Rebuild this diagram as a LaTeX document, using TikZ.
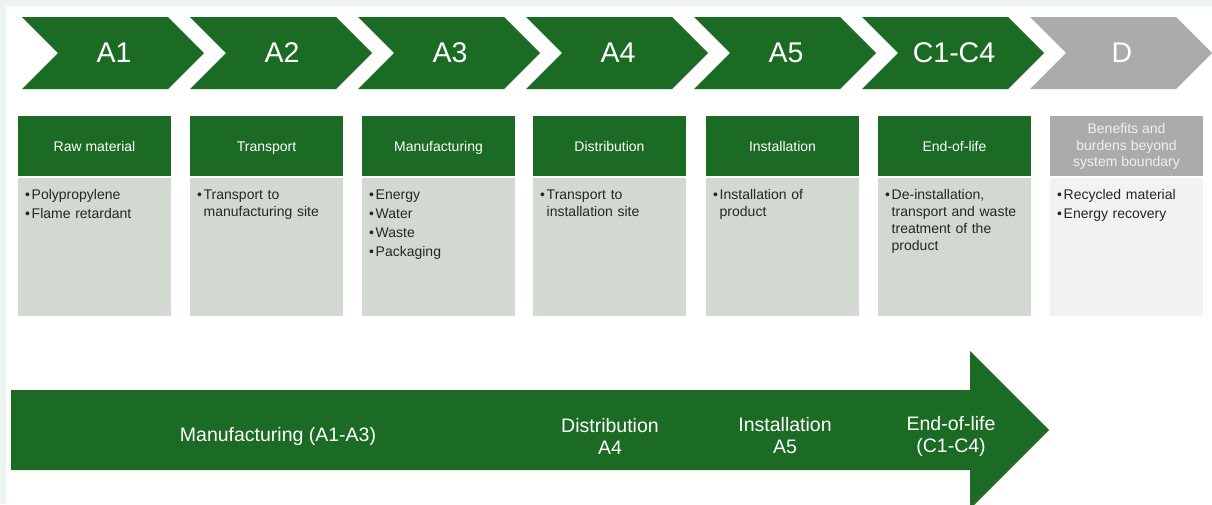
\documentclass[tikz,border=0pt]{standalone}
\usepackage{fontspec}
\setmainfont{Liberation Sans}
\definecolor{grn}{HTML}{1B6B25}
\definecolor{gry}{HTML}{ABABAB}
\definecolor{bodyg}{HTML}{D1D9D1}
\definecolor{bodyl}{HTML}{F2F2F2}
\definecolor{frame}{HTML}{EEF5EE}
\newcommand{\bitem}[1]{\par\noindent\makebox[6.5pt][l]{\textbullet}\parbox[t]{140pt}{\raggedright #1\strut}\par}
\tikzset{
  chevlabel/.style={text=white,font=\fontsize{28.5}{30}\selectfont,inner sep=0pt},
  headtext/.style={text=white,font=\fontsize{14}{16.5}\selectfont,align=center,inner sep=0pt},
  headone/.style={headtext,anchor=base},
  bodytext/.style={text=black!85,font=\fontsize{14}{16.7}\selectfont,text width=150pt,inner sep=0pt,anchor=north west},
  arrowtext/.style={text=white,font=\fontsize{19.5}{22}\selectfont,align=center,inner sep=0pt}
}
\begin{document}
\begin{tikzpicture}[x=1pt,y=-1pt]
\useasboundingbox (0,0) rectangle (1212,504);
\clip (0,0) rectangle (1212,504);
\fill[frame] (0,0) rectangle (1212,504);
\fill[white] (6,6) rectangle (1212,504);
% chevrons
\foreach \i/\lab/\col in {0/A1/grn,1/A2/grn,2/A3/grn,3/A4/grn,4/A5/grn,5/C1-C4/grn,6/D/gry}{
  \pgfmathsetmacro{\xo}{22+168*\i}
  \fill[\col] (\xo,17) -- ++(146,0) -- ++(36,36) -- ++(-36,36) -- ++(-146,0) -- ++(36,-36) -- cycle;
  \node[chevlabel] (chev\i) at (\xo+92,53) {\lab};
}
% boxes
\foreach \i/\xl/\hc/\bc in {0/18/grn/bodyg,1/190/grn/bodyg,2/362/grn/bodyg,3/533/grn/bodyg,4/706/grn/bodyg,5/878/grn/bodyg,6/1050/gry/bodyl}{
  \fill[\hc] (\xl,116) rectangle ++(153,60);
  \fill[\bc] (\xl,177.5) rectangle ++(153,138.5);
}
\node[headone] (h0) at (94.5,151) {Raw material};
\node[headone] (h1) at (266.5,151) {Transport};
\node[headone] (h2) at (438.5,151) {Manufacturing};
\node[headone] (h3) at (609.5,151) {Distribution};
\node[headone] (h4) at (782.5,151) {Installation};
\node[headone] (h5) at (954.5,151) {End-of-life};
\node[headtext,text=white!94!black] (h6) at (1126.5,146.5) {Benefits and\\burdens beyond\\system boundary};
\node[bodytext] (b0) at (25,183) {\bitem{Polypropylene}\vspace{2.3pt}\bitem{Flame retardant}};
\node[bodytext] (b1) at (197,183) {\bitem{Transport to\\manufacturing site}};
\node[bodytext] (b2) at (369,183) {\bitem{Energy}\vspace{2.3pt}\bitem{Water}\vspace{2.3pt}\bitem{Waste}\vspace{2.3pt}\bitem{Packaging}};
\node[bodytext] (b3) at (540,183) {\bitem{Transport to\\installation site}};
\node[bodytext] (b4) at (713,183) {\bitem{Installation of\\product}};
\node[bodytext] (b5) at (885,183) {\bitem{De-installation,\\transport and waste\\treatment of the\\product}};
\node[bodytext] (b6) at (1057,183) {\bitem{Recycled material}\vspace{2.3pt}\bitem{Energy recovery}};
% bottom arrow
\fill[grn] (11,390) -- (970,390) -- (970,351) -- (1049,430) -- (970,509) -- (970,470) -- (11,470) -- cycle;
\node[arrowtext] (m1) at (278,436) {Manufacturing (A1-A3)};
\node[arrowtext] (m2) at (610,436) {Distribution\\A4};
\node[arrowtext] (m3) at (785,436) {Installation\\A5};
\node[arrowtext] (m4) at (951,436) {End-of-life\\(C1-C4)};
\end{tikzpicture}
\end{document}
